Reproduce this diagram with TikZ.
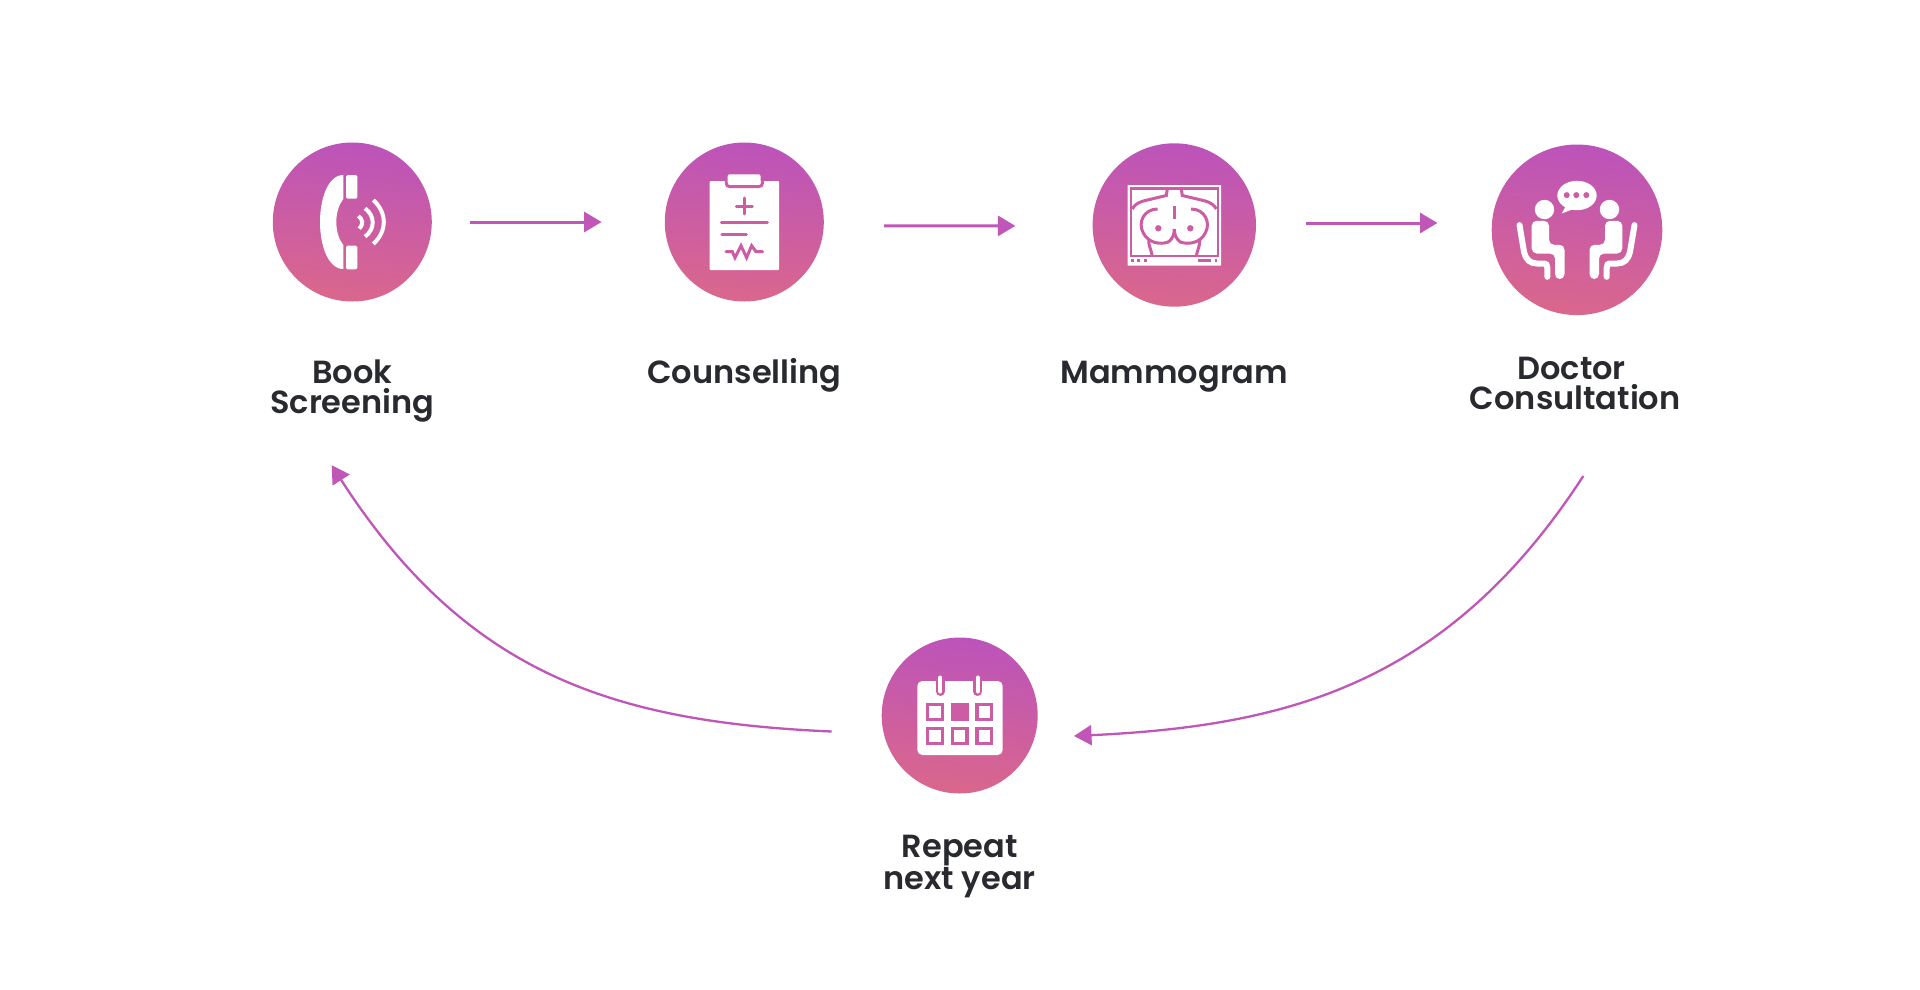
\documentclass[tikz,border=0pt]{standalone}
\usepackage{fontspec}
\usetikzlibrary{positioning, arrows.meta}
\newfontfamily\labelfont{Poppins SemiBold}
\definecolor{gradtop}{HTML}{BC53BA}
\definecolor{gradbot}{HTML}{DA678C}
\definecolor{cutcol}{HTML}{CC5DA4}
\definecolor{flowcol}{HTML}{BF56B8}
\definecolor{inkcol}{HTML}{282A30}

\begin{document}
\begin{tikzpicture}[x=1pt, y=-1pt, flow/.style={->, >={Triangle[length=17.5pt, width=20pt]}, draw=flowcol, line width=3pt},
	curveflow/.style={flow, line width=2.3pt},
	stage/.style={circle, inner sep=0pt, top color=gradtop, bottom color=gradbot, shading angle=-6},
	caption/.style={font=\labelfont\fontsize{32}{30}\selectfont, text=inkcol, align=center, inner sep=0pt},
	cut/.style={draw=cutcol, line width=3pt}]
		
		\useasboundingbox (0,0) rectangle (1920,990);
		
		\node (book) [stage, minimum size=159pt] at (352.3,222) {};
		\node (counselling) [stage, minimum size=159pt, right of=book, node distance=392pt] {};
		\node (mammogram) [stage, minimum size=163.4pt, right of=counselling, node distance=430pt, yshift=-3pt] {};
		\node (doctor) [stage, minimum size=170.6pt, right of=mammogram, node distance=402.7pt, yshift=-4.8pt] {};
		\node (repeat) [stage, minimum size=156pt] at (959.7,715.5) {};
		
		\node (booktext) [caption, below of=book, node distance=168.7pt] {Book\\Screening};
		\node (counsellingtext) [caption, below of=counselling, node distance=153.7pt] {Counselling};
		\node (mammogramtext) [caption, below of=mammogram, node distance=151.7pt] {Mammogram};
		\node (doctortext) [caption, below of=doctor, node distance=154pt, xshift=-1.8pt] {Doctor\hspace*{7pt}\\Consultation};
		\node (repeattext) [caption, below of=repeat, node distance=151pt] {Repeat\\next year};
		
		\coordinate (doctorout) at ([shift={(6.3,246.2)}]doctor.center);
		\coordinate (repeatin) at ([shift={(114.3,20.5)}]repeat.center);
		\coordinate (repeatout) at ([shift={(-128,16)}]repeat.center);
		\coordinate (bookin) at ([shift={(-20.6,243.3)}]book.center);
		
		\draw[flow, shorten <=38pt, shorten >=63pt] (book.east) -- (counselling.west);
		\draw[flow, shorten <=60pt, shorten >=77pt] ([yshift=-3.7pt]counselling.east) -- ([yshift=-1pt]mammogram.west);
		\draw[flow, shorten <=49.7pt, shorten >=54pt] ([yshift=2pt]mammogram.east) -- ([yshift=6.8pt]doctor.west);
		\draw[curveflow] (doctorout) .. controls (1447,686) and (1285,726) .. (repeatin);
		\draw[curveflow] (repeatout) .. controls (610,722) and (465,672) .. (bookin);
		
		% phone
		\begin{scope}[shift={(book.center)}]
			\fill[white] (-9,-47) .. controls (-24,-47) and (-32.3,-24) .. (-32.3,0) .. controls (-32.3,24) and (-24,47) .. (-9,47) -- (-9,23) .. controls (-13,18) and (-16,10) .. (-16,0) .. controls (-16,-10) and (-13,-18) .. (-9,-23) -- cycle;
			\fill[white, rounded corners=1.5pt] (-6.3,-47) rectangle (5,-23.3);
			\fill[white, rounded corners=1.5pt] (-6.3,23.7) rectangle (5,47.3);
			\draw[white, line width=4pt] (6,-6) .. controls (11,-3) and (11,3) .. (7,6.7);
			\draw[white, line width=4pt] (12.7,-13.7) .. controls (23,-6) and (23,7) .. (12.7,14.7);
			\draw[white, line width=4pt] (21,-22) .. controls (35,-9) and (35,9) .. (21,22);
		\end{scope}
		
		% clipboard
		\begin{scope}[shift={(counselling.center)}]
			\fill[white, rounded corners=1pt] (-34.7,-41) rectangle (34.7,48);
			\draw[cut, rounded corners=3pt] (-18,-42) -- (-18,-35.5) -- (18,-35.5) -- (18,-42);
			\fill[white, rounded corners=2pt] (-16.7,-47.7) rectangle (16.3,-38);
			\draw[cut, line cap=round] (-8,-16) -- (8,-16) (0,-24) -- (0,-8);
			\draw[cut, line cap=round] (-23,0.7) -- (23,0.7);
			\draw[cut, line cap=round] (-22.5,12.7) -- (2,12.7);
			\draw[cut, line cap=round] (-18.3,29.7) -- (-12,29.7) -- (-9.3,35.7) -- (-3.3,23.7) -- (2.3,35.7) -- (7.3,23.7) -- (11.7,29.7) -- (18.3,29.7);
		\end{scope}
		
		% x-ray screen
		\begin{scope}[shift={(mammogram.center)}]
			\fill[white, rounded corners=0.5pt] (-46.7,-40) rectangle (46.7,40.7);
			\draw[cut, line width=2.4pt] (-43.5,-36.5) rectangle (43.5,31);
			\foreach \dotx in {-42,-35.7,-29,41.7}
				\fill[cutcol] (\dotx-1.3,34.4) rectangle (\dotx+1.3,37);
			\fill[cutcol] (24,34.4) rectangle (36.3,37);
			\draw[cut] (0,-19) -- (0,-6);
			\foreach \side in {1,-1} {
				\begin{scope}[xscale=\side]
					\draw[cut] (7,-36) -- (8,-29.5) -- (31,-24) .. controls (36,-22.5) and (40,-20) .. (42,-16);
					\draw[cut] (16.7,-16) .. controls (30,-16) and (37,-3) .. (31,8) .. controls (26,18) and (14,20) .. (6,17) .. controls (2,14) and (0,10) .. (0,4);
					\draw[cut] (25.5,15) .. controls (26,20) and (23,25) .. (22,31);
					\fill[cutcol] (16,3.3) circle (3.2);
				\end{scope}
			}
		\end{scope}
		
		% two people talking
		\begin{scope}[shift={(doctor.center)}]
			\fill[white] (0,-34.3) ellipse (19.7 and 14.7);
			\fill[white] (-11,-24) -- (-15.3,-16.3) -- (-3,-21) -- cycle;
			\foreach \dotx in {-10.3,-0.7,9.3}
				\fill[cutcol] (\dotx,-34.7) circle (3);
			\foreach \side in {1,-1} {
				\begin{scope}[xscale=\side]
					\fill[white] (32.5,-20.3) circle (9.7);
					\fill[white, rounded corners=5pt] (45.3,-9) -- (28,-9) -- (28,15) -- (12.5,15) -- (12.5,49.3) -- (22,49.3) -- (22,23.7) -- (45.3,23.7) -- cycle;
					\draw[white, line width=6pt, line cap=round] (57.5,-4.7) -- (53,22) .. controls (51,30) and (47,33.7) .. (40,33.7) -- (34,33.7) .. controls (30.5,33.7) and (29.7,35) .. (29.7,38) -- (29.7,47);
				\end{scope}
			}
		\end{scope}
		
		% calendar
		\begin{scope}[shift={(repeat.center)}]
			\fill[white, rounded corners=5pt] (-42.4,-34.5) rectangle (43,39.5);
			\foreach \ringx in {-19.3,18} {
				\draw[cutcol, line width=9pt, line cap=round] (\ringx,-35) -- (\ringx,-24);
				\draw[white, line width=4pt, line cap=round] (\ringx,-38) -- (\ringx,-24);
			}
			\foreach \cellx in {-33.7,-9,15.7} {
				\foreach \celly in {-12.5,11.5}
					\draw[cut, line width=3.5pt] (\cellx+1.7,\celly+1.7) rectangle (\cellx+16.3,\celly+16.3);
			}
			\fill[cutcol] (-9,-12.5) rectangle (9,5.5);
		\end{scope}
		
		\end{tikzpicture}
\end{document}
